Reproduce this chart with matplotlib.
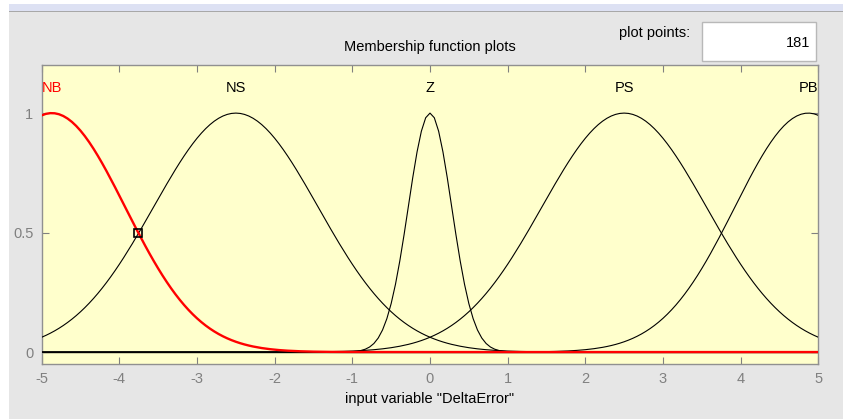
import numpy as np
import matplotlib
matplotlib.use('Agg')
import matplotlib.pyplot as plt
from matplotlib.patches import Rectangle

plt.rcParams['font.family'] = ['Liberation Sans Narrow', 'Liberation Sans', 'DejaVu Sans']

# membership functions of "DeltaError" (gaussmf: sigma, center)
mf_names = ['NB', 'NS', 'Z', 'PS', 'PB']
mf_sigma = [0.945, 1.06, 0.28, 1.06, 0.945]
mf_center = [-4.87, -2.5, 0.0, 2.5, 4.87]
selected = 'NB'
n_points = 181
x_range = (-5, 5)
x_ticks = [-5, -4, -3, -2, -1, 0, 1, 2, 3, 4, 5]
y_ticks = [0, 0.5, 1]
marker_pt = (-3.757, 0.5)

W, H = 843, 419
fig = plt.figure(figsize=(W / 100, H / 100), dpi=100)
fig.patch.set_facecolor('#e6e6e6')

def fx(px):
    return px / W

def fy(py):
    return 1 - py / H

# window chrome
fig.patches.append(Rectangle((0, 0), fx(9), 1, transform=fig.transFigure,
                             facecolor='white', edgecolor='none', zorder=0))
fig.patches.append(Rectangle((0, fy(4)), 1, 4 / H, transform=fig.transFigure,
                             facecolor='white', edgecolor='none', zorder=0))
fig.patches.append(Rectangle((fx(9), fy(11)), 1, 7 / H, transform=fig.transFigure,
                             facecolor='#dde1f3', edgecolor='none', zorder=0))
fig.patches.append(Rectangle((fx(9), fy(12.5)), 1, 1.5 / H, transform=fig.transFigure,
                             facecolor='#a8a8a8', edgecolor='none', zorder=0))

# plot points box
fig.patches.append(Rectangle((fx(702), fy(61.5)), fx(114), 39 / H, transform=fig.transFigure,
                             facecolor='white', edgecolor='#b8b8b8', lw=1, zorder=1))
fig.text(fx(810), fy(43), str(n_points), ha='right', va='center', fontsize=10.5, color='black')
fig.text(fx(690), fy(33), 'plot points:', ha='right', va='center', fontsize=10.5, color='black')
fig.text(fx(430), fy(47), 'Membership function plots', ha='center', va='center',
         fontsize=10.5, color='black')

ax = fig.add_axes([fx(41.7), 55 / H, (818.3 - 41.7) / W, (364 - 65.3) / H])
ax.set_facecolor('#ffffcc')

x = np.linspace(x_range[0], x_range[1], n_points)
ax.plot(x_range, [0, 0], color='black', lw=1, zorder=2)
for name, s, c in zip(mf_names, mf_sigma, mf_center):
    y = np.exp(-(x - c) ** 2 / (2 * s ** 2))
    if name == selected:
        ax.plot(x, y, color='red', lw=1.7, zorder=4)
        col = 'red'
    else:
        ax.plot(x, y, color='black', lw=0.8, zorder=3)
        col = 'black'
    if c <= x_range[0] + 0.3:
        tx, ha = x_range[0], 'left'
    elif c >= x_range[1] - 0.3:
        tx, ha = x_range[1], 'right'
    else:
        tx, ha = c, 'center'
    ax.text(tx, 1.105, name, ha=ha, va='center', fontsize=10.5, color=col)

ax.plot([marker_pt[0]], [marker_pt[1]], marker='s', ms=6, mfc='none', mec='black',
        mew=1.2, zorder=5)

ax.set_xlim(*x_range)
ax.set_ylim(-0.05, 1.2)
ax.set_xticks(x_ticks)
ax.set_yticks(y_ticks)
ax.set_xticklabels([str(t) for t in x_ticks])
ax.set_yticklabels(['0', '0.5', '1'])
ax.tick_params(direction='in', length=5, width=0.8, color='#808080', labelcolor='#808080',
               labelsize=10.5, top=True, right=True, pad=6)
for sp in ax.spines.values():
    sp.set_color('#909090')
    sp.set_linewidth(1)
ax.set_xlabel('input variable "DeltaError"', fontsize=10.5, color='black', labelpad=4)

fig.savefig('out.png', dpi=100, facecolor=fig.get_facecolor())
